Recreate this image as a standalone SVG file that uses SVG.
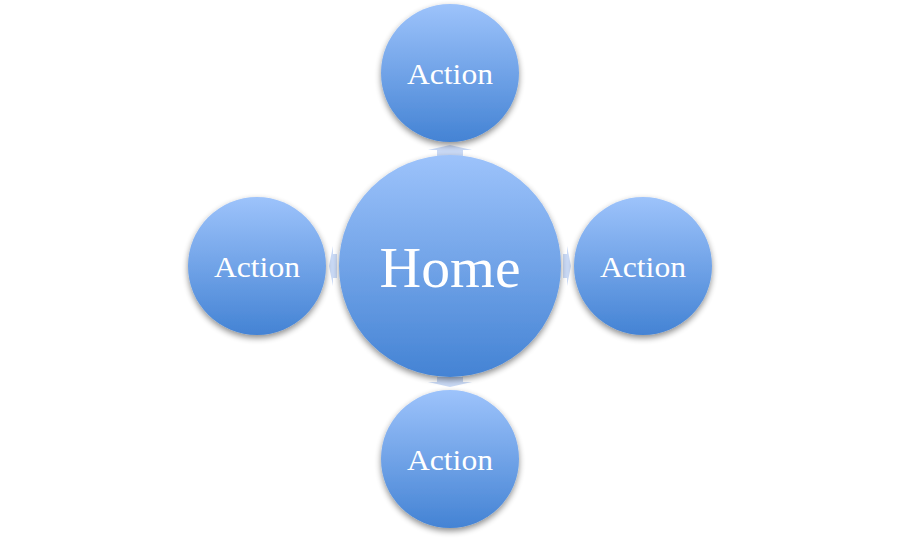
<svg xmlns="http://www.w3.org/2000/svg" width="900" height="539" viewBox="0 0 900 539">
<defs>
<linearGradient id="g" x1="0" y1="0" x2="0" y2="1">
<stop offset="0" stop-color="#9dc3fb"/>
<stop offset="1" stop-color="#4483d4"/>
</linearGradient>
<filter id="sh" x="-20%" y="-20%" width="140%" height="150%">
<feGaussianBlur in="SourceAlpha" stdDeviation="3"/>
<feOffset dx="0" dy="3" result="b"/>
<feComponentTransfer><feFuncA type="linear" slope="0.45"/></feComponentTransfer>
<feMerge><feMergeNode/><feMergeNode in="SourceGraphic"/></feMerge>
</filter>
</defs>
<style>
.c{fill:url(#g);filter:url(#sh)}
.t{fill:#fff;font-family:"Liberation Serif",serif;text-anchor:middle}
.a{fill:#bcd0f2;opacity:0.8}
</style>
<g id="connectors">
<path class="a" d="M450,145 L472,150 L463,150 L463,156 L437,156 L437,150 L428,150 Z"/>
<path class="a" d="M450,387 L472,382 L463,382 L463,377 L437,377 L437,382 L428,382 Z"/>
<path class="a" d="M329,266 L333,246 L333,254 L337,254 L337,278 L333,278 L333,286 Z"/>
<path class="a" d="M571,266 L567,246 L567,254 L563,254 L563,278 L567,278 L567,286 Z"/>
</g>
<g id="home"><circle class="c" cx="450" cy="266" r="111"/><text class="t" x="450" y="287" font-size="57" textLength="141" lengthAdjust="spacingAndGlyphs">Home</text></g>
<g id="top"><circle class="c" cx="450" cy="73" r="69"/><text class="t" x="450" y="84" font-size="30" textLength="86" lengthAdjust="spacingAndGlyphs">Action</text></g>
<g id="left"><circle class="c" cx="257" cy="266" r="69"/><text class="t" x="257" y="277" font-size="30" textLength="86" lengthAdjust="spacingAndGlyphs">Action</text></g>
<g id="right"><circle class="c" cx="643" cy="266" r="69"/><text class="t" x="643" y="277" font-size="30" textLength="86" lengthAdjust="spacingAndGlyphs">Action</text></g>
<g id="bottom"><circle class="c" cx="450" cy="459" r="69"/><text class="t" x="450" y="470" font-size="30" textLength="86" lengthAdjust="spacingAndGlyphs">Action</text></g>
</svg>
